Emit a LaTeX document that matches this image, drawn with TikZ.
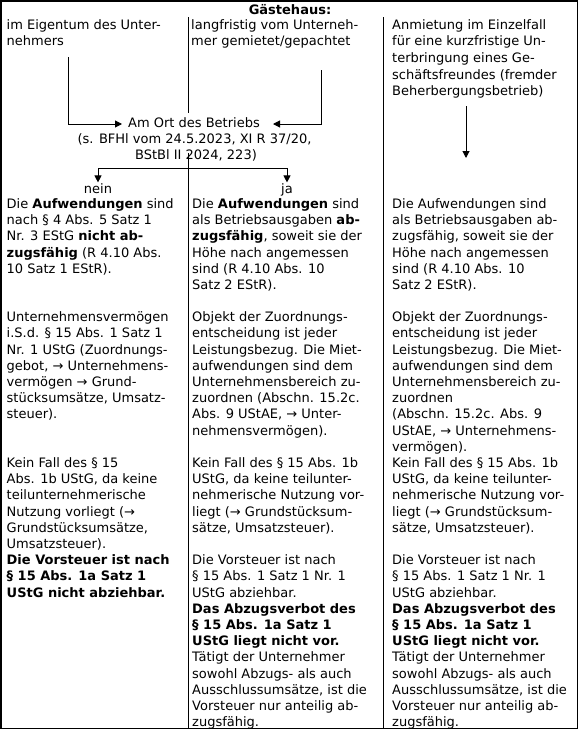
\documentclass[tikz,border=0pt]{standalone}
\usepackage{fontspec}
\setmainfont{DejaVu Sans}
\usetikzlibrary{arrows.meta}
\newcommand{\colblock}[1]{\parbox[t]{260pt}{\raggedright #1}}
\begin{document}
\begin{tikzpicture}[x=1pt,y=-1pt,
  txt/.style={inner sep=0pt, anchor=base west, font=\fontsize{13}{16.19}\selectfont},
  toptxt/.style={inner sep=0pt, anchor=base west, font=\fontsize{13}{16.7}\selectfont},
  ctr/.style={inner sep=0pt, anchor=base, font=\fontsize{13}{16.2}\selectfont},
  rule/.style={line width=1pt},
  arr/.style={line width=1pt, -{Triangle[length=7pt,width=7pt]}}]
\useasboundingbox (0,0) rectangle (579,731);
% frame and dividers
\draw[line width=1.5pt] (0.75,0.75) rectangle (577.5,728.5);
\draw[rule] (188,17) -- (188,113);
\draw[rule] (188,153) -- (188,729);
\draw[rule] (383,17) -- (383,729);
% title
\node[ctr, font={\fontsize{13}{16}\selectfont\bfseries}] (title) at (290,14) {Gästehaus:};
% top blocks
\node[toptxt] (c1top) at (6.5,29) {\colblock{im Eigentum des Unter-\\nehmers}};
\node[toptxt] (c2top) at (191,29) {\colblock{langfristig vom Unterneh-\\mer gemietet/gepachtet}};
\node[toptxt] (c3top) at (392,29) {\colblock{Anmietung im Einzelfall\\für eine kurzfristige Un-\\terbringung eines Ge-\\schäftsfreundes (fremder\\Beherbergungsbetrieb)}};
% central decision
\node[ctr] (ort1) at (194,127.5) {Am Ort des Betriebs};
\node[ctr] (ort2) at (194.5,143.5) {(s. BFHl vom 24.5.2023, XI R 37/20,};
\node[ctr] (ort3) at (196,159.5) {BStBl II 2024, 223)};
\coordinate (a1) at (68,57);
\coordinate (a1end) at (122,124);
\draw[arr] (a1) |- (a1end);
\coordinate (a2) at (321,70);
\coordinate (a2end) at (273,124);
\draw[arr] (a2) |- (a2end);
\coordinate (r1) at (466,106);
\coordinate (r2) at (466,158);
\draw[arr] (r1) -- (r2);
% split
\coordinate (sp) at (188,168);
\node[ctr, inner sep=1pt] (nein) at (98,193.5) {nein};
\node[ctr, inner sep=1pt] (ja) at (287,193.5) {ja};
\draw[arr] (sp) -| (nein);
\draw[arr] (sp) -| (ja);
% column 1
\node[txt] (c1a) at (6.5,208.5) {\colblock{Die \textbf{Aufwendungen} sind\\nach § 4 Abs. 5 Satz 1\\Nr. 3 EStG \textbf{nicht ab-}\\\textbf{zugsfähig} (R 4.10 Abs.\\10 Satz 1 EStR).}};
\node[txt] (c1b) at (6.5,321.8) {\colblock{Unternehmensvermögen\\i.S.d. § 15 Abs. 1 Satz 1\\Nr. 1 UStG (Zuordnungs-\\gebot, → Unternehmens-\\vermögen → Grund-\\stücksumsätze, Umsatz-\\steuer).}};
\node[txt] (c1c) at (6.5,467.5) {\colblock{Kein Fall des § 15\\Abs. 1b UStG, da keine\\teilunternehmerische\\Nutzung vorliegt (→\\Grundstücksumsätze,\\Umsatzsteuer).\\\textbf{Die Vorsteuer ist nach}\\\textbf{§ 15 Abs. 1a Satz 1}\\\textbf{UStG nicht abziehbar.}}};
% column 2
\node[txt] (c2a) at (192,208.5) {\colblock{Die \textbf{Aufwendungen} sind\\als Betriebsausgaben \textbf{ab-}\\\textbf{zugsfähig}, soweit sie der\\Höhe nach angemessen\\sind (R 4.10 Abs. 10\\Satz 2 EStR).}};
\node[txt] (c2b) at (192,321.8) {\colblock{Objekt der Zuordnungs-\\entscheidung ist jeder\\Leistungsbezug. Die Miet-\\aufwendungen sind dem\\Unternehmensbereich zu-\\zuordnen (Abschn. 15.2c.\\Abs. 9 UStAE, → Unter-\\nehmensvermögen).}};
\node[txt] (c2c) at (192,467.5) {\colblock{Kein Fall des § 15 Abs. 1b\\UStG, da keine teilunter-\\nehmerische Nutzung vor-\\liegt (→ Grundstücksum-\\sätze, Umsatzsteuer).}};
\node[txt] (c2d) at (192,564.7) {\colblock{Die Vorsteuer ist nach\\§ 15 Abs. 1 Satz 1 Nr. 1\\UStG abziehbar.\\\textbf{Das Abzugsverbot des}\\\textbf{§ 15 Abs. 1a Satz 1}\\\textbf{UStG liegt nicht vor.}\\Tätigt der Unternehmer\\sowohl Abzugs- als auch\\Ausschlussumsätze, ist die\\Vorsteuer nur anteilig ab-\\zugsfähig.}};
% column 3
\node[txt] (c3a) at (392,208.5) {\colblock{Die Aufwendungen sind\\als Betriebsausgaben ab-\\zugsfähig, soweit sie der\\Höhe nach angemessen\\sind (R 4.10 Abs. 10\\Satz 2 EStR).}};
\node[txt] (c3b) at (392,321.8) {\colblock{Objekt der Zuordnungs-\\entscheidung ist jeder\\Leistungsbezug. Die Miet-\\aufwendungen sind dem\\Unternehmensbereich zu-\\zuordnen\\(Abschn. 15.2c. Abs. 9\\UStAE, → Unternehmens-\\vermögen).\\Kein Fall des § 15 Abs. 1b\\UStG, da keine teilunter-\\nehmerische Nutzung vor-\\liegt (→ Grundstücksum-\\sätze, Umsatzsteuer).}};
\node[txt] (c3d) at (392,564.7) {\colblock{Die Vorsteuer ist nach\\§ 15 Abs. 1 Satz 1 Nr. 1\\UStG abziehbar.\\\textbf{Das Abzugsverbot des}\\\textbf{§ 15 Abs. 1a Satz 1}\\\textbf{UStG liegt nicht vor.}\\Tätigt der Unternehmer\\sowohl Abzugs- als auch\\Ausschlussumsätze, ist die\\Vorsteuer nur anteilig ab-\\zugsfähig.}};
\end{tikzpicture}
\end{document}
